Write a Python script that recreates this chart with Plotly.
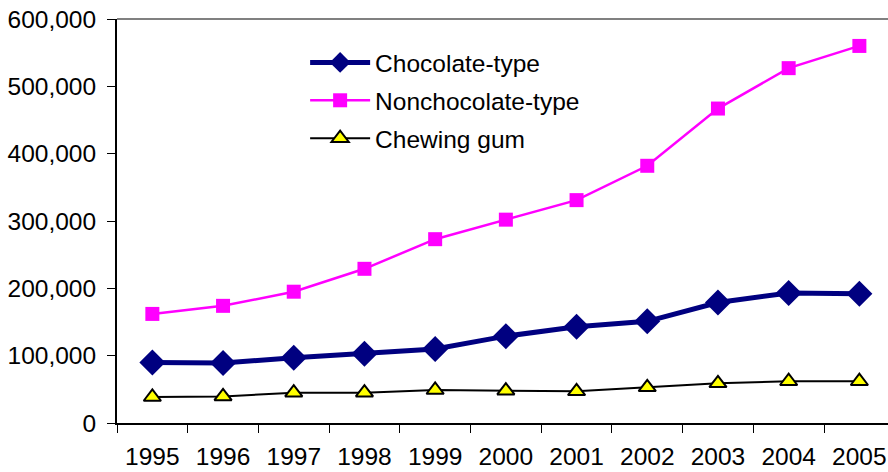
import plotly.graph_objects as go

years = ["1995", "1996", "1997", "1998", "1999", "2000", "2001", "2002", "2003", "2004", "2005"]
chocolate = [90000, 89000, 97000, 103000, 110000, 129000, 143000, 151000, 179000, 193000, 192000]
nonchocolate = [162000, 174000, 195000, 229000, 273000, 302000, 331000, 382000, 467000, 527000, 560000]
chewing_gum = [38600, 39500, 45000, 45000, 49000, 48000, 47000, 53000, 59000, 62000, 62000]

FONT = "Liberation Sans, Arial, sans-serif"
FS = 24.5

fig = go.Figure()
fig.add_trace(go.Scatter(
    x=years, y=chocolate, name="Chocolate-type", mode="lines+markers",
    line=dict(color="#000080", width=5),
    marker=dict(symbol="diamond", size=20, color="#000080"),
    legendgroup="a",
))
fig.add_trace(go.Scatter(
    x=years, y=nonchocolate, name="Nonchocolate-type", mode="lines+markers",
    line=dict(color="#FF00FF", width=2.5),
    marker=dict(symbol="square", size=14, color="#FF00FF"),
    legendgroup="b",
))
fig.add_trace(go.Scatter(
    x=years, y=chewing_gum, name="Chewing gum", mode="lines+markers",
    line=dict(color="#000000", width=2),
    marker=dict(symbol="triangle-up", size=15, color="#FFFF00", line=dict(color="#000000", width=2)),
    legendgroup="c",
))

fig.update_layout(
    width=888, height=472,
    margin=dict(l=117, r=0, t=19, b=49),
    paper_bgcolor="white", plot_bgcolor="white",
    font=dict(family=FONT, size=FS, color="black"),
    showlegend=True,
    legend=dict(
        x=0.244, y=0.948, xanchor="left", yanchor="top",
        bgcolor="rgba(0,0,0,0)", font=dict(size=FS, family=FONT),
        itemwidth=60, tracegroupgap=3,
    ),
    xaxis=dict(
        type="category", range=[-0.5, 10.405], automargin=False,
        showgrid=False, showline=True, linecolor="black", linewidth=2,
        ticks="outside", tickson="boundaries", ticklen=8, tickcolor="black", tickwidth=1,
        tickfont=dict(size=FS, family=FONT), ticklabelstandoff=11,
        zeroline=False,
    ),
    yaxis=dict(
        range=[0, 600000], automargin=False,
        tickvals=[0, 100000, 200000, 300000, 400000, 500000, 600000],
        ticktext=["0", "100,000", "200,000", "300,000", "400,000", "500,000", "600,000"],
        showgrid=False, showline=True, linecolor="black", linewidth=2,
        ticks="outside", ticklen=8, tickcolor="black", tickwidth=1,
        tickfont=dict(size=FS, family=FONT), ticklabelstandoff=6,
        zeroline=False,
    ),
    shapes=[dict(type="line", xref="paper", yref="paper", x0=0, x1=1, y0=1, y1=1,
                 line=dict(color="#808080", width=2))],
)

# remove the default 8px page margin so the figure sits at the window's corner
fig.write_html("out.html", config={"displayModeBar": False},
               post_script="document.body.style.margin='0';")
